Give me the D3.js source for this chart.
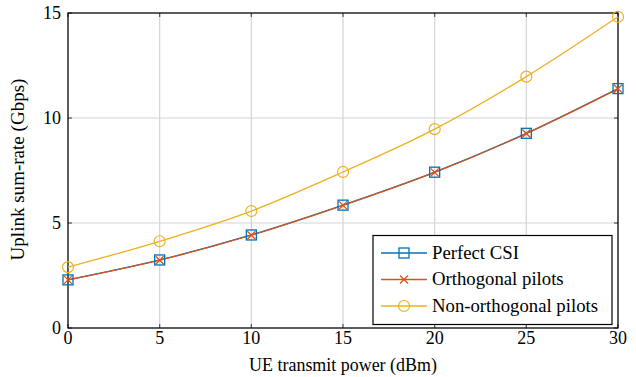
<!DOCTYPE html>
<html><head><meta charset="utf-8">
<script src="https://cdn.jsdelivr.net/npm/d3@7"></script>
<style>body{margin:0;background:#fff}</style>
</head><body><svg id="c" width="636" height="377"></svg>
<script>
const power = [0, 5, 10, 15, 20, 25, 30];
const perfectCSI = [2.29, 3.24, 4.43, 5.85, 7.42, 9.27, 11.40];
const orthogonal = [2.29, 3.23, 4.42, 5.84, 7.41, 9.26, 11.39];
const nonOrthogonal = [2.90, 4.13, 5.57, 7.43, 9.47, 11.97, 14.82];
const xTicks = [0, 5, 10, 15, 20, 25, 30];
const yTicks = [0, 5, 10, 15];
const seriesNames = ["Perfect CSI", "Orthogonal pilots", "Non-orthogonal pilots"];
const colors = ["#0072BD", "#D95319", "#EDB120"];

const svg = d3.select("#c");
const FF = "Liberation Serif";
const L = 68, R = 618, T = 13, B = 328;
const x = d3.scaleLinear().domain([0, 30]).range([L, R]);
const y = d3.scaleLinear().domain([0, 15]).range([B, T]);

// size a text so its rendered width matches a target width
function fit(t, w) {
  const n = t.node();
  const len = n.getComputedTextLength();
  const fs = +t.attr("font-size");
  if (len > 0) t.attr("font-size", (fs * w / len).toFixed(2));
  return t;
}

// grid
const g = svg.append("g");
g.selectAll(".gx").data(xTicks).enter().append("line")
  .attr("x1", d => x(d)).attr("x2", d => x(d)).attr("y1", T).attr("y2", B)
  .attr("stroke", "#d4d4d4").attr("stroke-width", 1.2);
g.selectAll(".gy").data(yTicks).enter().append("line")
  .attr("y1", d => y(d)).attr("y2", d => y(d)).attr("x1", L).attr("x2", R)
  .attr("stroke", "#d4d4d4").attr("stroke-width", 1.2);

// inner ticks (all four sides)
const tk = 4;
const ticks = svg.append("g").attr("stroke", "#555").attr("stroke-width", 1.2);
xTicks.forEach(d => {
  ticks.append("line").attr("x1", x(d)).attr("x2", x(d)).attr("y1", B).attr("y2", B - tk);
  ticks.append("line").attr("x1", x(d)).attr("x2", x(d)).attr("y1", T).attr("y2", T + tk);
});
yTicks.forEach(d => {
  ticks.append("line").attr("y1", y(d)).attr("y2", y(d)).attr("x1", L).attr("x2", L + tk);
  ticks.append("line").attr("y1", y(d)).attr("y2", y(d)).attr("x1", R).attr("x2", R - tk);
});

// frame
svg.append("rect").attr("x", L).attr("y", T).attr("width", R - L).attr("height", B - T)
  .attr("fill", "none").attr("stroke", "#000").attr("stroke-width", 1.2);

// tick labels
svg.selectAll(".xl").data(xTicks).enter().append("text").attr("font-family", FF)
  .attr("x", d => x(d)).attr("y", B + 16).attr("text-anchor", "middle")
  .attr("font-size", 18).text(d => d);
svg.selectAll(".yl").data(yTicks).enter().append("text").attr("font-family", FF)
  .attr("x", L - 7).attr("y", d => y(d) + 6).attr("text-anchor", "end")
  .attr("font-size", 18).text(d => d);

// axis labels
fit(svg.append("text").attr("font-family", FF).attr("x", (L + R) / 2 + 0).attr("y", 371).attr("text-anchor", "middle")
  .attr("font-size", 16).text("UE transmit power (dBm)"), 188);
fit(svg.append("text").attr("font-family", FF).attr("transform", `translate(24,${(T + B) / 2 - 1}) rotate(-90)`)
  .attr("text-anchor", "middle").attr("font-size", 16).text("Uplink sum-rate (Gbps)"), 182);

const series = [perfectCSI, orthogonal, nonOrthogonal];
const line = d3.line().x((d, i) => x(power[i])).y(d => y(d)).curve(d3.curveMonotoneX);

function marker(sel, k, cx, cy) {
  const c = colors[k];
  if (k === 0) sel.append("rect").attr("x", cx - 5).attr("y", cy - 5).attr("width", 10).attr("height", 10)
    .attr("fill", "none").attr("stroke", c).attr("stroke-width", 1.3);
  else if (k === 1) {
    const s = 4;
    sel.append("path").attr("d", `M${cx - s},${cy - s}L${cx + s},${cy + s}M${cx - s},${cy + s}L${cx + s},${cy - s}`)
      .attr("stroke", c).attr("stroke-width", 1.3).attr("fill", "none");
  } else sel.append("circle").attr("cx", cx).attr("cy", cy).attr("r", 5.5)
    .attr("fill", "none").attr("stroke", c).attr("stroke-width", 1.2);
}

[0, 2, 1].forEach(k => {
  svg.append("path").datum(series[k]).attr("d", line).attr("fill", "none")
    .attr("stroke", colors[k]).attr("stroke-width", 1.3);
});
[0, 2, 1].forEach(k => {
  const gm = svg.append("g");
  series[k].forEach((v, i) => marker(gm, k, x(power[i]), y(v)));
});

// legend
const lg = svg.append("g");
lg.append("rect").attr("x", 373).attr("y", 235.5).attr("width", 239).attr("height", 89)
  .attr("fill", "#fff").attr("stroke", "#000").attr("stroke-width", 1.2);
const legendWidths = [87, 0, 166];
seriesNames.forEach((n, k) => {
  const yy = 253 + k * 26.5;
  lg.append("line").attr("x1", 381).attr("x2", 427).attr("y1", yy).attr("y2", yy)
    .attr("stroke", colors[k]).attr("stroke-width", 1.3);
  marker(lg, k, 404, yy);
  lg.append("text").attr("class", "lt").attr("font-family", FF).attr("x", 432).attr("y", yy + 5.5)
    .attr("font-size", 16).text(n);
});
// common legend font size from the longest entry
const lts = lg.selectAll(".lt");
const last = lts.nodes()[2];
const fsL = 16 * 166 / last.getComputedTextLength();
lts.attr("font-size", fsL.toFixed(2));
</script></body></html>
